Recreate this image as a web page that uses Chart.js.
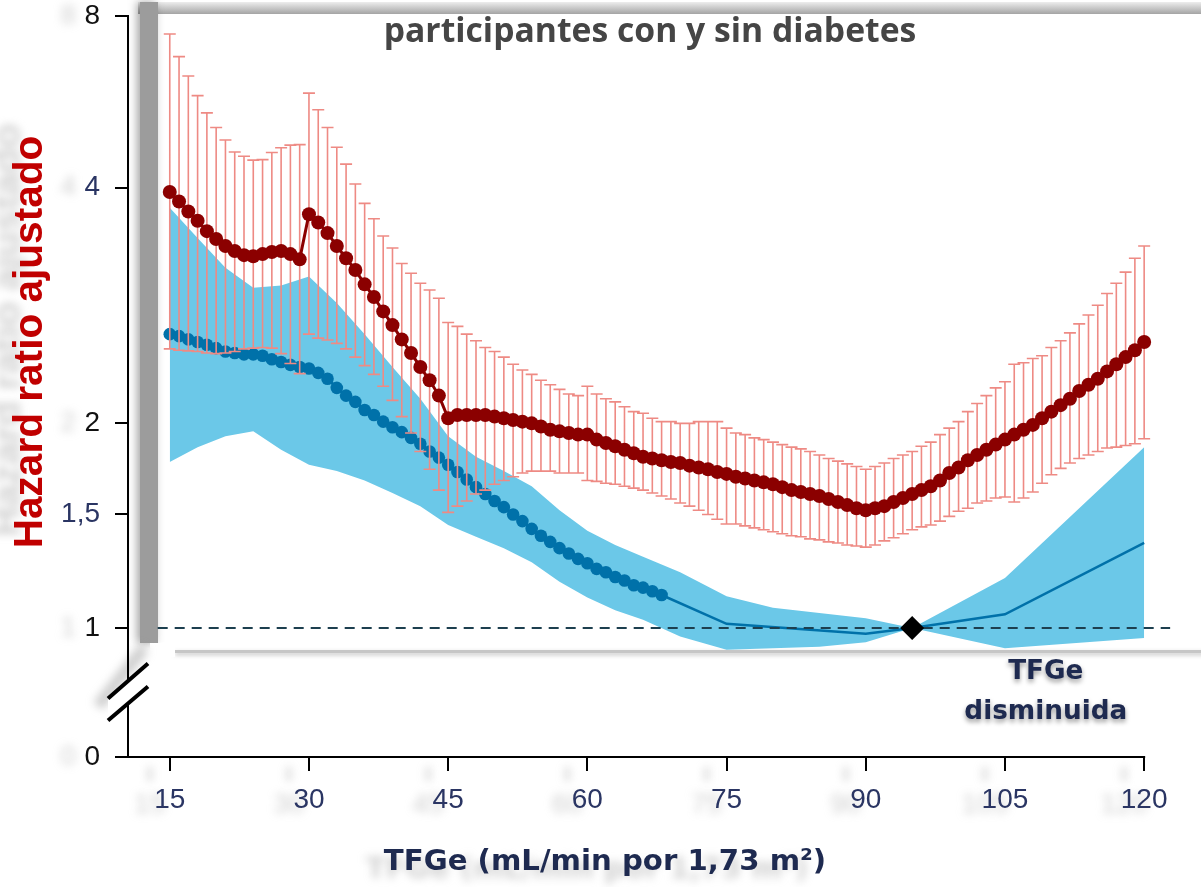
<!DOCTYPE html>
<html lang="es">
<head>
<meta charset="utf-8">
<title>Hazard ratio ajustado según TFGe</title>
<script src="https://cdn.jsdelivr.net/npm/chart.js@4.4.1/dist/chart.umd.min.js"></script>
<style>
  html, body { margin: 0; padding: 0; background: #fff; }
  #wrap { position: relative; width: 1201px; height: 887px; }
</style>
</head>
<body>
<div id="wrap"><canvas id="hrChart"></canvas></div>
<script>
// =============================================
// Data
// =============================================

const xTicks = [15, 30, 45, 60, 75, 90, 105, 120];
const yTicks = [0, 1, 1.5, 2, 4, 8];

// participantes con diabetes: HR and 95% CI at every TFGe value
const redX = [
  15, 16, 17, 18, 19, 20, 21, 22, 23, 24, 25, 26, 27, 28, 29,
  30, 31, 32, 33, 34, 35, 36, 37, 38, 39, 40, 41, 42, 43, 44,
  45, 46, 47, 48, 49, 50, 51, 52, 53, 54, 55, 56, 57, 58, 59,
  60, 61, 62, 63, 64, 65, 66, 67, 68, 69, 70, 71, 72, 73, 74,
  75, 76, 77, 78, 79, 80, 81, 82, 83, 84, 85, 86, 87, 88, 89,
  90, 91, 92, 93, 94, 95, 96, 97, 98, 99, 100, 101, 102, 103, 104,
  105, 106, 107, 108, 109, 110, 111, 112, 113, 114, 115, 116, 117, 118, 119,
  120
];
const redHR = [
  3.95, 3.84, 3.73, 3.63, 3.52, 3.44, 3.37, 3.32, 3.28, 3.27, 3.29, 3.31, 3.32, 3.29, 3.24,
  3.70, 3.61, 3.50, 3.37, 3.25, 3.14, 3.01, 2.90, 2.78, 2.67, 2.56, 2.46, 2.36, 2.27, 2.17,
  2.03, 2.05, 2.05, 2.05, 2.05, 2.04, 2.03, 2.02, 2.01, 2.00, 1.98, 1.96, 1.95, 1.94, 1.93,
  1.93, 1.90, 1.88, 1.86, 1.84, 1.82, 1.80, 1.79, 1.78, 1.77, 1.765, 1.75, 1.74, 1.73, 1.715,
  1.705, 1.69, 1.68, 1.67, 1.66, 1.65, 1.635, 1.62, 1.61, 1.60, 1.59, 1.575, 1.56, 1.545, 1.53,
  1.52, 1.53, 1.54, 1.56, 1.58, 1.60, 1.62, 1.64, 1.67, 1.71, 1.74, 1.78, 1.81, 1.84, 1.87,
  1.90, 1.93, 1.96, 1.99, 2.03, 2.07, 2.11, 2.15, 2.20, 2.24, 2.28, 2.33, 2.38, 2.43, 2.48,
  2.54
];
const redHigh = [
  7.44, 6.79, 6.28, 5.80, 5.41, 5.10, 4.85, 4.62, 4.54, 4.47, 4.48, 4.61, 4.70, 4.75, 4.76,
  5.86, 5.48, 5.10, 4.71, 4.40, 4.06, 3.82, 3.65, 3.47, 3.35, 3.20, 3.11, 3.02, 2.96, 2.89,
  2.69, 2.66, 2.60, 2.55, 2.50, 2.47, 2.43, 2.38, 2.34, 2.31, 2.27, 2.24, 2.21, 2.18, 2.17,
  2.23, 2.18, 2.15, 2.13, 2.10, 2.07, 2.06, 2.03, 2.01, 2.01, 2.00, 2.00, 2.01, 2.01, 2.01,
  1.97, 1.94, 1.93, 1.91, 1.90, 1.885, 1.87, 1.855, 1.845, 1.83, 1.81, 1.79, 1.775, 1.76, 1.745,
  1.73, 1.745, 1.765, 1.79, 1.81, 1.83, 1.86, 1.885, 1.93, 1.97, 2.01, 2.07, 2.12, 2.17, 2.22,
  2.26, 2.38, 2.39, 2.42, 2.44, 2.50, 2.55, 2.61, 2.68, 2.75, 2.83, 2.93, 3.02, 3.12, 3.25,
  3.37
];
const redLow = [
  2.49, 2.48, 2.475, 2.47, 2.46, 2.455, 2.46, 2.47, 2.49, 2.495, 2.50, 2.495, 2.455, 2.385, 2.315,
  2.60, 2.57, 2.555, 2.53, 2.49, 2.43, 2.37, 2.31, 2.23, 2.14, 2.04, 1.94, 1.83, 1.73, 1.62,
  1.51, 1.54, 1.565, 1.60, 1.62, 1.65, 1.67, 1.69, 1.71, 1.72, 1.72, 1.72, 1.71, 1.71, 1.71,
  1.67, 1.665, 1.655, 1.65, 1.64, 1.63, 1.62, 1.605, 1.59, 1.575, 1.555, 1.54, 1.52, 1.50, 1.475,
  1.45, 1.45, 1.44, 1.43, 1.42, 1.41, 1.40, 1.39, 1.385, 1.375, 1.37, 1.36, 1.355, 1.345, 1.34,
  1.335, 1.345, 1.365, 1.38, 1.40, 1.42, 1.435, 1.445, 1.465, 1.49, 1.515, 1.53, 1.555, 1.565, 1.58,
  1.585, 1.56, 1.58, 1.61, 1.655, 1.70, 1.735, 1.765, 1.79, 1.81, 1.83, 1.85, 1.855, 1.865, 1.875,
  1.905
];

// participantes sin diabetes: dotted part, then the line on to 120
const blueDotX = [
  15, 16, 17, 18, 19, 20, 21, 22, 23, 24, 25, 26, 27, 28, 29,
  30, 31, 32, 33, 34, 35, 36, 37, 38, 39, 40, 41, 42, 43, 44,
  45, 46, 47, 48, 49, 50, 51, 52, 53, 54, 55, 56, 57, 58, 59,
  60, 61, 62, 63, 64, 65, 66, 67, 68
];
const blueDotHR = [
  2.60, 2.585, 2.56, 2.54, 2.52, 2.495, 2.47, 2.46, 2.45, 2.45, 2.44, 2.415, 2.395, 2.375, 2.36,
  2.35, 2.32, 2.28, 2.22, 2.17, 2.13, 2.08, 2.05, 2.01, 1.975, 1.945, 1.91, 1.875, 1.83, 1.795,
  1.755, 1.715, 1.675, 1.635, 1.60, 1.565, 1.535, 1.50, 1.465, 1.425, 1.39, 1.36, 1.33, 1.305, 1.28,
  1.26, 1.235, 1.22, 1.20, 1.185, 1.165, 1.155, 1.14, 1.125
];
const blueTailX = [68, 75, 90, 95, 105, 120];
const blueTailHR = [1.125, 1.015, 0.98, 1.0, 1.05, 1.355];

// 95% CI band, sin diabetes
const bandX = [15, 18, 21, 24, 27, 30, 33, 36, 39, 42, 45, 48, 51, 54, 57, 60, 63, 66, 70, 75, 80, 85, 90, 95, 105, 120];
const bandHigh = [3.77, 3.45, 3.16, 2.98, 3.00, 3.08, 2.85, 2.60, 2.36, 2.15, 1.92, 1.80, 1.72, 1.64, 1.52, 1.415, 1.345, 1.29, 1.22, 1.12, 1.075, 1.055, 1.035, 1.0, 1.195, 1.855];
const bandLow = [1.77, 1.855, 1.92, 1.95, 1.84, 1.755, 1.72, 1.67, 1.605, 1.54, 1.445, 1.385, 1.33, 1.265, 1.18, 1.115, 1.065, 1.03, 0.97, 0.925, 0.93, 0.935, 0.95, 1.0, 0.93, 0.965];

// HR = 1 reference line and reference TFGe
const refX = [13.7, 122.8];
const refY = [1, 1];
const refPointX = [95];
const refPointY = [1];

// =============================================
// Styles
// =============================================

const COLORS = {
  red: '#8b0000',
  errBar: '#ee8a84',
  blue: '#0071a9',
  band: '#6bc8e8',
  ref: '#1d3f4f',
  navy: '#2a3563',
  navyBold: '#1e2a50',
  title: '#454545',
  yTitle: '#c00000',
  ghost: 'rgba(150,150,150,0.45)'
};
const navyTicks = [4, 1.5];
const TICK_FONT = '"Liberation Sans", Arial, sans-serif';
const BOLD_FONT = '"DejaVu Sans", Verdana, sans-serif';

// =============================================
// Y scale: log-like spacing between the labelled ticks, with a break to 0
// =============================================

class KnotLogScale extends Chart.LinearScale {
  determineDataLimits() {
    this.min = this.options.min;
    this.max = this.options.max;
  }

  buildTicks() {
    return yTicks.map(v => ({ value: v }));
  }

  _frac(v) {
    const k = this.options.knots;
    if (v <= 0) return 0;
    if (v <= k[0][0]) {
      const [v0, f0] = k[0], [v1, f1] = k[1];
      return Math.max(0, f0 + Math.log(v / v0) / Math.log(v1 / v0) * (f1 - f0));
    }
    for (let i = 1; i < k.length; i++) {
      if (v <= k[i][0] || i === k.length - 1) {
        const [v0, f0] = k[i - 1], [v1, f1] = k[i];
        return f0 + Math.log(v / v0) / Math.log(v1 / v0) * (f1 - f0);
      }
    }
    return 1;
  }

  getPixelForValue(v) {
    return this.getPixelForDecimal(this._frac(v));
  }

  getValueForPixel(pixel) {
    const f = this.getDecimalForPixel(pixel);
    const k = this.options.knots;
    let i = 1;
    while (i < k.length - 1 && f > k[i][1]) i++;
    const [v0, f0] = k[i - 1], [v1, f1] = k[i];
    return v0 * Math.pow(v1 / v0, (f - f0) / (f1 - f0));
  }
}
KnotLogScale.id = 'knotlog';
KnotLogScale.defaults = {};
Chart.register(KnotLogScale);

// =============================================
// Helpers + plugins
// =============================================

function fitFont(ctx, text, targetW, weight, family) {
  ctx.font = `${weight} 100px ${family}`;
  const size = 100 * targetW / ctx.measureText(text).width;
  return `${weight} ${size.toFixed(1)}px ${family}`;
}

const RED_INDEX = 4;

// error bars of the red series, drawn just under its line and dots
const errorBars = {
  id: 'errorBars',
  beforeDatasetDraw(chart, args) {
    if (args.index !== RED_INDEX) return;
    const { ctx, chartArea: a } = chart;
    const sx = chart.scales.x, sy = chart.scales.y;
    ctx.save();
    ctx.beginPath();
    ctx.rect(a.left, a.top, a.right - a.left, a.bottom - a.top);
    ctx.clip();
    ctx.strokeStyle = COLORS.errBar;
    ctx.lineWidth = 1.6;
    ctx.beginPath();
    redX.forEach((x, i) => {
      const px = sx.getPixelForValue(x);
      const top = sy.getPixelForValue(redHigh[i]);
      const bot = sy.getPixelForValue(redLow[i]);
      ctx.moveTo(px, top); ctx.lineTo(px, bot);
      ctx.moveTo(px - 6, top); ctx.lineTo(px + 6, top);
      ctx.moveTo(px - 6, bot); ctx.lineTo(px + 6, bot);
    });
    ctx.stroke();
    ctx.restore();
  }
};

// screenshot frame, blurred ghost labels, axis break and titles
const decor = {
  id: 'decor',
  beforeDraw(chart) {
    const { ctx, chartArea: a, width } = chart;
    const sx = chart.scales.x, sy = chart.scales.y;
    const yOne = sy.getPixelForValue(1);
    ctx.save();

    const g = ctx.createLinearGradient(0, 2, 0, 14);
    g.addColorStop(0, '#ededed');
    g.addColorStop(1, '#a4a4a4');
    ctx.fillStyle = g;
    ctx.fillRect(a.left + 10, 2, width - a.left - 10, 12);

    ctx.shadowColor = 'rgba(0,0,0,0.35)';
    ctx.shadowBlur = 8;
    ctx.shadowOffsetX = -3;
    ctx.fillStyle = '#9c9c9c';
    ctx.fillRect(a.left + 12, 2, 18, yOne + 15 - 2);

    ctx.shadowOffsetX = 0;
    ctx.shadowOffsetY = 2;
    ctx.shadowBlur = 4;
    ctx.shadowColor = 'rgba(0,0,0,0.25)';
    ctx.fillStyle = '#c6c6c6';
    ctx.fillRect(a.left + 47, yOne + 22, width, 3);
    ctx.shadowColor = 'transparent';
    ctx.fillStyle = '#fff';
    ctx.fillRect(a.left + 22, yOne + 15, 25, 14);

    // blurred ghost copies of the labels
    ctx.filter = 'blur(4px)';
    ctx.fillStyle = COLORS.ghost;
    ctx.strokeStyle = COLORS.ghost;
    ctx.font = `28px ${TICK_FONT}`;
    ctx.textBaseline = 'middle';
    ctx.textAlign = 'right';
    [8, 4, 2, 1, 0].forEach(v => ctx.fillText(String(v), a.left - 52, sy.getPixelForValue(v)));
    ctx.textAlign = 'center';
    xTicks.forEach(v => {
      const px = sx.getPixelForValue(v);
      ctx.fillText(String(v), px - 20, a.bottom + 48);
      ctx.fillRect(px - 22, a.bottom + 10, 4, 14);
    });
    ctx.font = fitFont(ctx, 'TFGe (mL/min por 1,73 m²)', 443, 'bold', BOLD_FONT);
    ctx.fillText('TFGe (mL/min por 1,73 m²)', 587, 870);
    ctx.save();
    ctx.translate(9, 330);
    ctx.rotate(-Math.PI / 2);
    ctx.font = fitFont(ctx, 'Hazard ratio ajustado', 413, 'bold', TICK_FONT);
    ctx.fillText('Hazard ratio ajustado', 0, 0);
    ctx.restore();
    ctx.lineWidth = 12;
    ctx.beginPath();
    ctx.moveTo(a.left + 16, yOne + 20);
    ctx.lineTo(a.left - 30, yOne + 78);
    ctx.stroke();
    ctx.restore();
  },

  afterDraw(chart) {
    const { ctx, chartArea: a } = chart;
    const sx = chart.scales.x, sy = chart.scales.y;
    const yOne = sy.getPixelForValue(1);
    ctx.save();

    // x axis line (ends at the last tick)
    ctx.strokeStyle = '#000';
    ctx.lineWidth = 2;
    ctx.beginPath();
    ctx.moveTo(a.left - 1, a.bottom);
    ctx.lineTo(sx.getPixelForValue(xTicks[xTicks.length - 1]) + 1, a.bottom);
    ctx.stroke();

    // axis break between 1 and 0
    const cx = a.left, cy = (yOne + a.bottom) / 2;
    ctx.fillStyle = '#fff';
    ctx.beginPath();
    ctx.moveTo(cx - 20, cy + 6);
    ctx.lineTo(cx + 20, cy - 29);
    ctx.lineTo(cx + 20, cy - 6);
    ctx.lineTo(cx - 20, cy + 28);
    ctx.closePath();
    ctx.fill();
    ctx.lineWidth = 4;
    ctx.beginPath();
    ctx.moveTo(cx - 20, cy + 6); ctx.lineTo(cx + 20, cy - 29);
    ctx.moveTo(cx - 20, cy + 28); ctx.lineTo(cx + 20, cy - 6);
    ctx.stroke();

    ctx.textAlign = 'center';
    ctx.textBaseline = 'middle';

    // title inside the panel
    ctx.fillStyle = COLORS.title;
    ctx.font = fitFont(ctx, 'participantes con y sin diabetes', 533, 'bold', '"Open Sans", sans-serif');
    ctx.fillText('participantes con y sin diabetes', (a.left + a.right) / 2, a.top + 16);

    // y title
    ctx.save();
    ctx.translate(31, 342);
    ctx.rotate(-Math.PI / 2);
    ctx.fillStyle = COLORS.yTitle;
    ctx.font = fitFont(ctx, 'Hazard ratio ajustado', 413, 'bold', TICK_FONT);
    ctx.fillText('Hazard ratio ajustado', 0, 0);
    ctx.restore();

    // x title
    ctx.fillStyle = COLORS.navyBold;
    ctx.font = fitFont(ctx, 'TFGe (mL/min por 1,73 m²)', 443, 'bold', BOLD_FONT);
    ctx.fillText('TFGe (mL/min por 1,73 m²)', 605, 862);

    // note under the panel
    ctx.shadowColor = 'rgba(0,0,0,0.4)';
    ctx.shadowBlur = 5;
    ctx.shadowOffsetY = 3;
    ctx.font = fitFont(ctx, 'disminuida', 163, 'bold', BOLD_FONT);
    const nx = sx.getPixelForValue(109.4);
    ctx.fillText('TFGe', nx, yOne + 44);
    ctx.fillText('disminuida', nx, yOne + 84);
    ctx.restore();
  }
};

// =============================================
// Chart
// =============================================

const xy = (xs, ys) => xs.map((x, i) => ({ x, y: ys[i] }));

new Chart(document.getElementById('hrChart'), {
  type: 'line',
  data: {
    datasets: [
      {
        label: 'IC 95% sin diabetes',
        data: xy(bandX, bandHigh),
        borderWidth: 0, pointRadius: 0,
        fill: '+1', backgroundColor: COLORS.band,
        order: 7
      },
      {
        label: 'IC 95% sin diabetes (inferior)',
        data: xy(bandX, bandLow),
        borderWidth: 0, pointRadius: 0, fill: false,
        order: 8
      },
      {
        label: 'sin diabetes',
        data: xy(blueDotX, blueDotHR),
        borderColor: COLORS.blue, borderWidth: 3,
        pointRadius: 6.3, pointBackgroundColor: COLORS.blue, pointBorderWidth: 0,
        fill: false, order: 5
      },
      {
        label: 'sin diabetes (continuación)',
        data: xy(blueTailX, blueTailHR),
        borderColor: COLORS.blue, borderWidth: 2.5, pointRadius: 0,
        fill: false, order: 6
      },
      {
        label: 'con diabetes',
        data: xy(redX, redHR),
        borderColor: COLORS.red, borderWidth: 3,
        pointRadius: 7, pointBackgroundColor: COLORS.red, pointBorderWidth: 0,
        fill: false, order: 2
      },
      {
        label: 'HR = 1',
        data: xy(refX, refY),
        borderColor: COLORS.ref, borderWidth: 2, borderDash: [10, 7],
        pointRadius: 0, fill: false, order: 4
      },
      {
        label: 'TFGe de referencia',
        data: xy(refPointX, refPointY),
        showLine: false, pointStyle: 'rectRot', pointRadius: 12,
        pointBackgroundColor: '#000', pointBorderWidth: 0,
        order: 1
      }
    ]
  },
  options: {
    responsive: true,
    maintainAspectRatio: false,
    animation: false,
    events: [],
    layout: { padding: { left: 0, top: 16, right: 29, bottom: 0 } },
    plugins: { legend: { display: false }, tooltip: { enabled: false } },
    scales: {
      x: {
        type: 'linear', min: 10.5, max: 123,
        afterBuildTicks: s => { s.ticks = xTicks.map(v => ({ value: v })); },
        afterFit: s => { s.height = 130; s.paddingLeft = 0; s.paddingRight = 0; },
        grid: { drawOnChartArea: false, drawTicks: true, tickLength: 14, lineWidth: 2, tickWidth: 2, tickColor: '#000' },
        border: { display: false },
        ticks: {
          color: COLORS.navy, padding: 12, maxRotation: 0, autoSkip: false,
          font: { family: TICK_FONT, size: 28 }
        }
      },
      y: {
        type: 'knotlog', min: 0, max: 8,
        knots: [[1, 0.1741], [1.5, 0.3273], [2, 0.4503], [4, 0.7683], [8, 1]],
        afterFit: s => { s.width = 128; s.paddingTop = 0; s.paddingBottom = 0; },
        grid: { drawOnChartArea: false, drawTicks: true, tickLength: 13, lineWidth: 2, tickWidth: 2, tickColor: '#000' },
        border: { display: true, color: '#000', width: 2 },
        ticks: {
          autoSkip: false, padding: 15,
          callback: v => String(v).replace('.', ','),
          color: c => navyTicks.includes(c.tick && c.tick.value) ? COLORS.navy : '#111',
          font: { family: TICK_FONT, size: 28 }
        }
      }
    }
  },
  plugins: [errorBars, decor]
});
</script>
</body>
</html>
